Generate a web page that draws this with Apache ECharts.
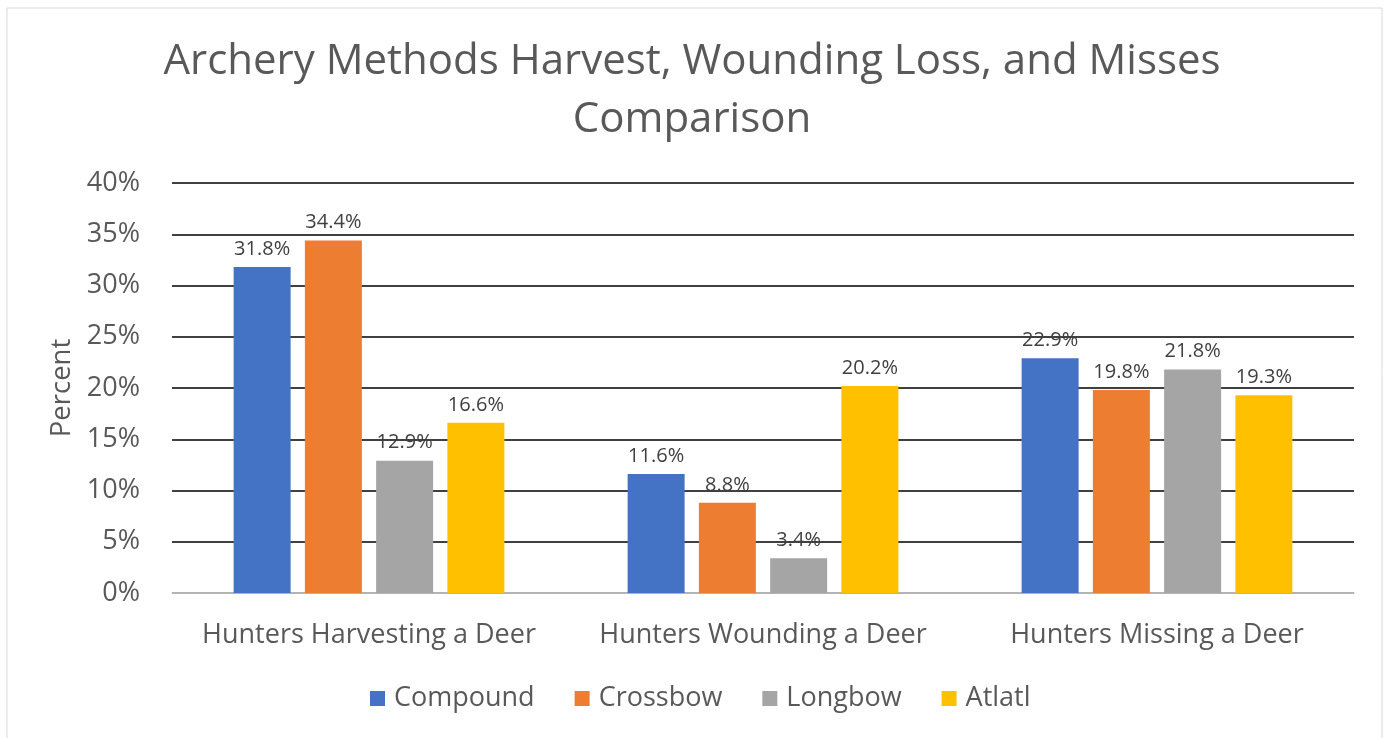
<!DOCTYPE html>
<html>
<head>
<meta charset="utf-8">
<script src="https://cdn.jsdelivr.net/npm/echarts@6/dist/echarts.min.js"></script>
<style>
  html, body { margin: 0; padding: 0; background: #fff; }
  #chart { width: 1384px; height: 738px; }
</style>
</head>
<body>
<div id="chart"></div>
<script>
var categories = ['Hunters Harvesting a Deer', 'Hunters Wounding a Deer', 'Hunters Missing a Deer'];
var compound = [31.8, 11.6, 22.9];
var crossbow = [34.4, 8.8, 19.8];
var longbow = [12.9, 3.4, 21.8];
var atlatl = [16.6, 20.2, 19.3];
var seriesNames = ['Compound', 'Crossbow', 'Longbow', 'Atlatl'];
var colors = ['#4472C4', '#ED7D31', '#A5A5A5', '#FFC000'];

function makeSeries(name, data, color) {
  return {
    name: name,
    type: 'bar',
    data: data,
    barWidth: 57,
    barGap: '25%',
    barCategoryGap: '31%',
    itemStyle: { color: color },
    label: {
      show: true,
      position: 'top',
      distance: 8,
      formatter: function (p) { return p.value.toFixed(1) + '%'; },
      color: '#404040',
      fontFamily: 'Open Sans',
      fontSize: 20
    }
  };
}

var myChart = echarts.init(document.getElementById('chart'));
var option = {
  backgroundColor: '#fff',
  animation: false,
  color: colors,
  title: {
    text: 'Archery Methods Harvest, Wounding Loss, and Misses\nComparison',
    left: 'center',
    top: 28,
    textStyle: {
      color: '#595959',
      fontFamily: 'Open Sans',
      fontWeight: 'normal',
      fontSize: 42,
      lineHeight: 58
    }
  },
  graphic: [{
    type: 'rect',
    shape: { x: 7, y: 8, width: 1375, height: 740 },
    style: { fill: 'none', stroke: '#d9d9d9', lineWidth: 1 },
    silent: true
  }],
  legend: {
    data: seriesNames,
    bottom: 21,
    left: 365,
    icon: 'rect',
    itemWidth: 15,
    itemHeight: 15,
    itemGap: 40,
    textStyle: { color: '#595959', fontFamily: 'Open Sans', fontSize: 27, padding: [0, 0, 0, 4] }
  },
  grid: {
    left: 172,
    right: 30,
    top: 183,
    bottom: 145,
    containLabel: false
  },
  xAxis: {
    type: 'category',
    data: categories,
    axisLine: { lineStyle: { color: '#d9d9d9', width: 1.5 } },
    axisTick: { show: false },
    axisLabel: {
      color: '#595959', fontFamily: 'Open Sans', fontSize: 27, margin: 29,
      interval: 0, hideOverlap: false
    }
  },
  yAxis: {
    type: 'value',
    min: 0,
    max: 40,
    interval: 5,
    name: 'Percent',
    nameLocation: 'middle',
    nameGap: 94,
    nameRotate: 90,
    nameTextStyle: { color: '#595959', fontFamily: 'Open Sans', fontSize: 27.5 },
    axisLine: { show: false },
    axisTick: { show: false },
    axisLabel: {
      color: '#595959', fontFamily: 'Open Sans', fontSize: 27, margin: 32,
      formatter: '{value}%'
    },
    splitLine: { lineStyle: { color: '#000', width: 1.5 } }
  },
  series: [
    makeSeries(seriesNames[0], compound, colors[0]),
    makeSeries(seriesNames[1], crossbow, colors[1]),
    makeSeries(seriesNames[2], longbow, colors[2]),
    makeSeries(seriesNames[3], atlatl, colors[3])
  ]
};
myChart.setOption(option);
</script>
</body>
</html>
